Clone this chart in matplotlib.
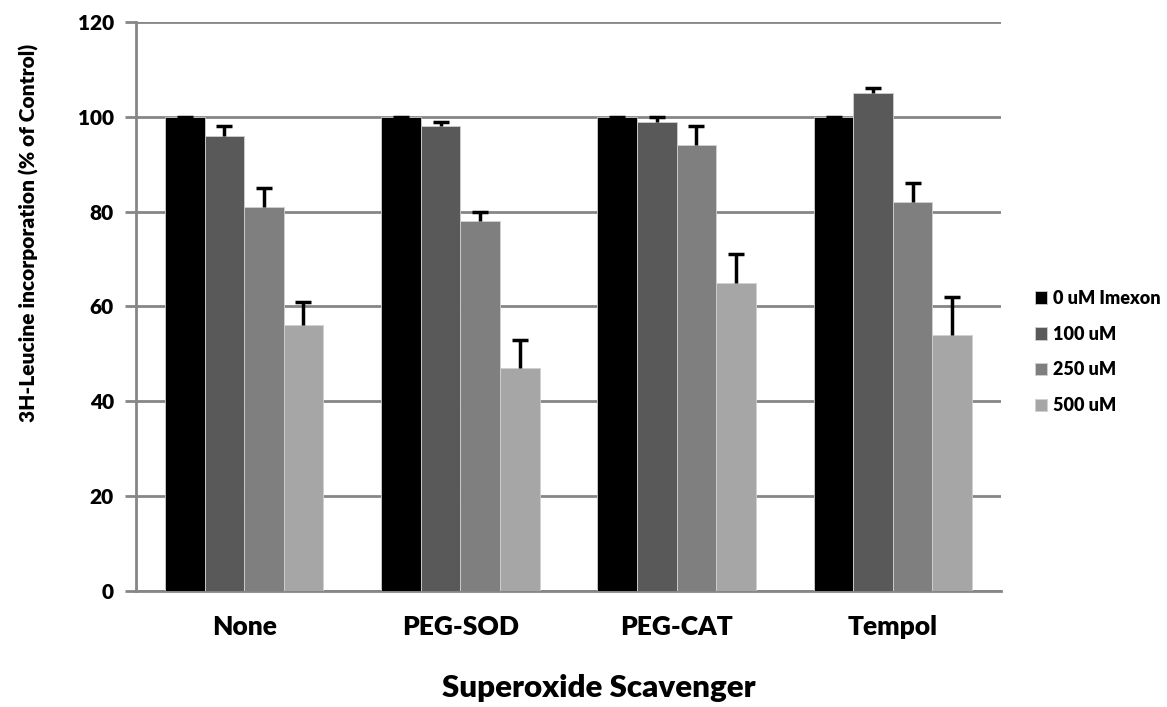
import numpy as np
import matplotlib.pyplot as plt

scavengers = ["None", "PEG-SOD", "PEG-CAT", "Tempol"]
doses = ["0 uM Imexon", "100 uM", "250 uM", "500 uM"]

# mean % of control for each dose, per scavenger
dose_0 = [100, 100, 100, 100]
dose_100 = [96, 98, 99, 105]
dose_250 = [81, 78, 94, 82]
dose_500 = [56, 47, 65, 54]

# upper error (SEM)
err_0 = [0, 0, 0, 0]
err_100 = [2, 1, 1, 1]
err_250 = [4, 2, 4, 4]
err_500 = [5, 6, 6, 8]

values = [dose_0, dose_100, dose_250, dose_500]
errors = [err_0, err_100, err_250, err_500]
colors = ["#000000", "#595959", "#7f7f7f", "#a6a6a6"]

plt.rcParams['font.family'] = ['Lato', 'DejaVu Sans']
plt.rcParams['font.weight'] = 'heavy'
W = 'heavy'

fig = plt.figure(figsize=(11.67, 7.07), dpi=100)
ax = fig.add_axes([0.1165, 0.164, 0.7413, 0.805])

x = np.arange(len(scavengers))
width = 0.183
for i in range(4):
    pos = x + (i - 1.5) * width
    vals = np.array(values[i])
    tops = vals + np.array(errors[i])
    ax.bar(pos, vals, width, color=colors[i], edgecolor="#d0d0d0",
           linewidth=0.6, label=doses[i], zorder=3)
    # plus-side error bars only
    ax.vlines(pos, vals, tops, color="black", linewidth=2.5, zorder=4)
    ax.plot(pos, tops, linestyle="none", marker="_", markersize=12,
            markeredgewidth=2.5, color="black", zorder=4)

ax.set_xlim(-0.5, 3.5)
ax.set_ylim(0, 120)
ax.set_yticks(range(0, 121, 20))
ax.yaxis.grid(True, color="#868686", linewidth=2, zorder=0)
ax.set_axisbelow(True)

for side in ["top", "right"]:
    ax.spines[side].set_visible(False)
for side in ["left", "bottom"]:
    ax.spines[side].set_color("#868686")
    ax.spines[side].set_linewidth(2)

ax.tick_params(axis="y", length=8, width=2, color="#868686", labelsize=15, pad=8)
ax.tick_params(axis="x", length=0, labelsize=19, pad=17)
ax.set_xticks(x)
ax.set_xticklabels(scavengers, fontweight=W)
for lab in ax.get_yticklabels():
    lab.set_fontweight(W)

ax.set_ylabel("3H-Leucine incorporation (% of Control)", fontsize=15, fontweight=W)
ax.yaxis.set_label_coords(-0.112, 0.629)

# axis title placed below the category labels
fig.text(0.3787, 0.0141, "Superoxide Scavenger", fontsize=22.5, fontweight=W,
         ha="left", va="baseline")

ax.legend(loc="center left", bbox_to_anchor=(1.02, 0.42), frameon=False,
          prop={"size": 13, "weight": W}, handlelength=0.7, handleheight=0.7,
          handletextpad=0.3, labelspacing=1.05)

fig.savefig("out.png", dpi=100)
